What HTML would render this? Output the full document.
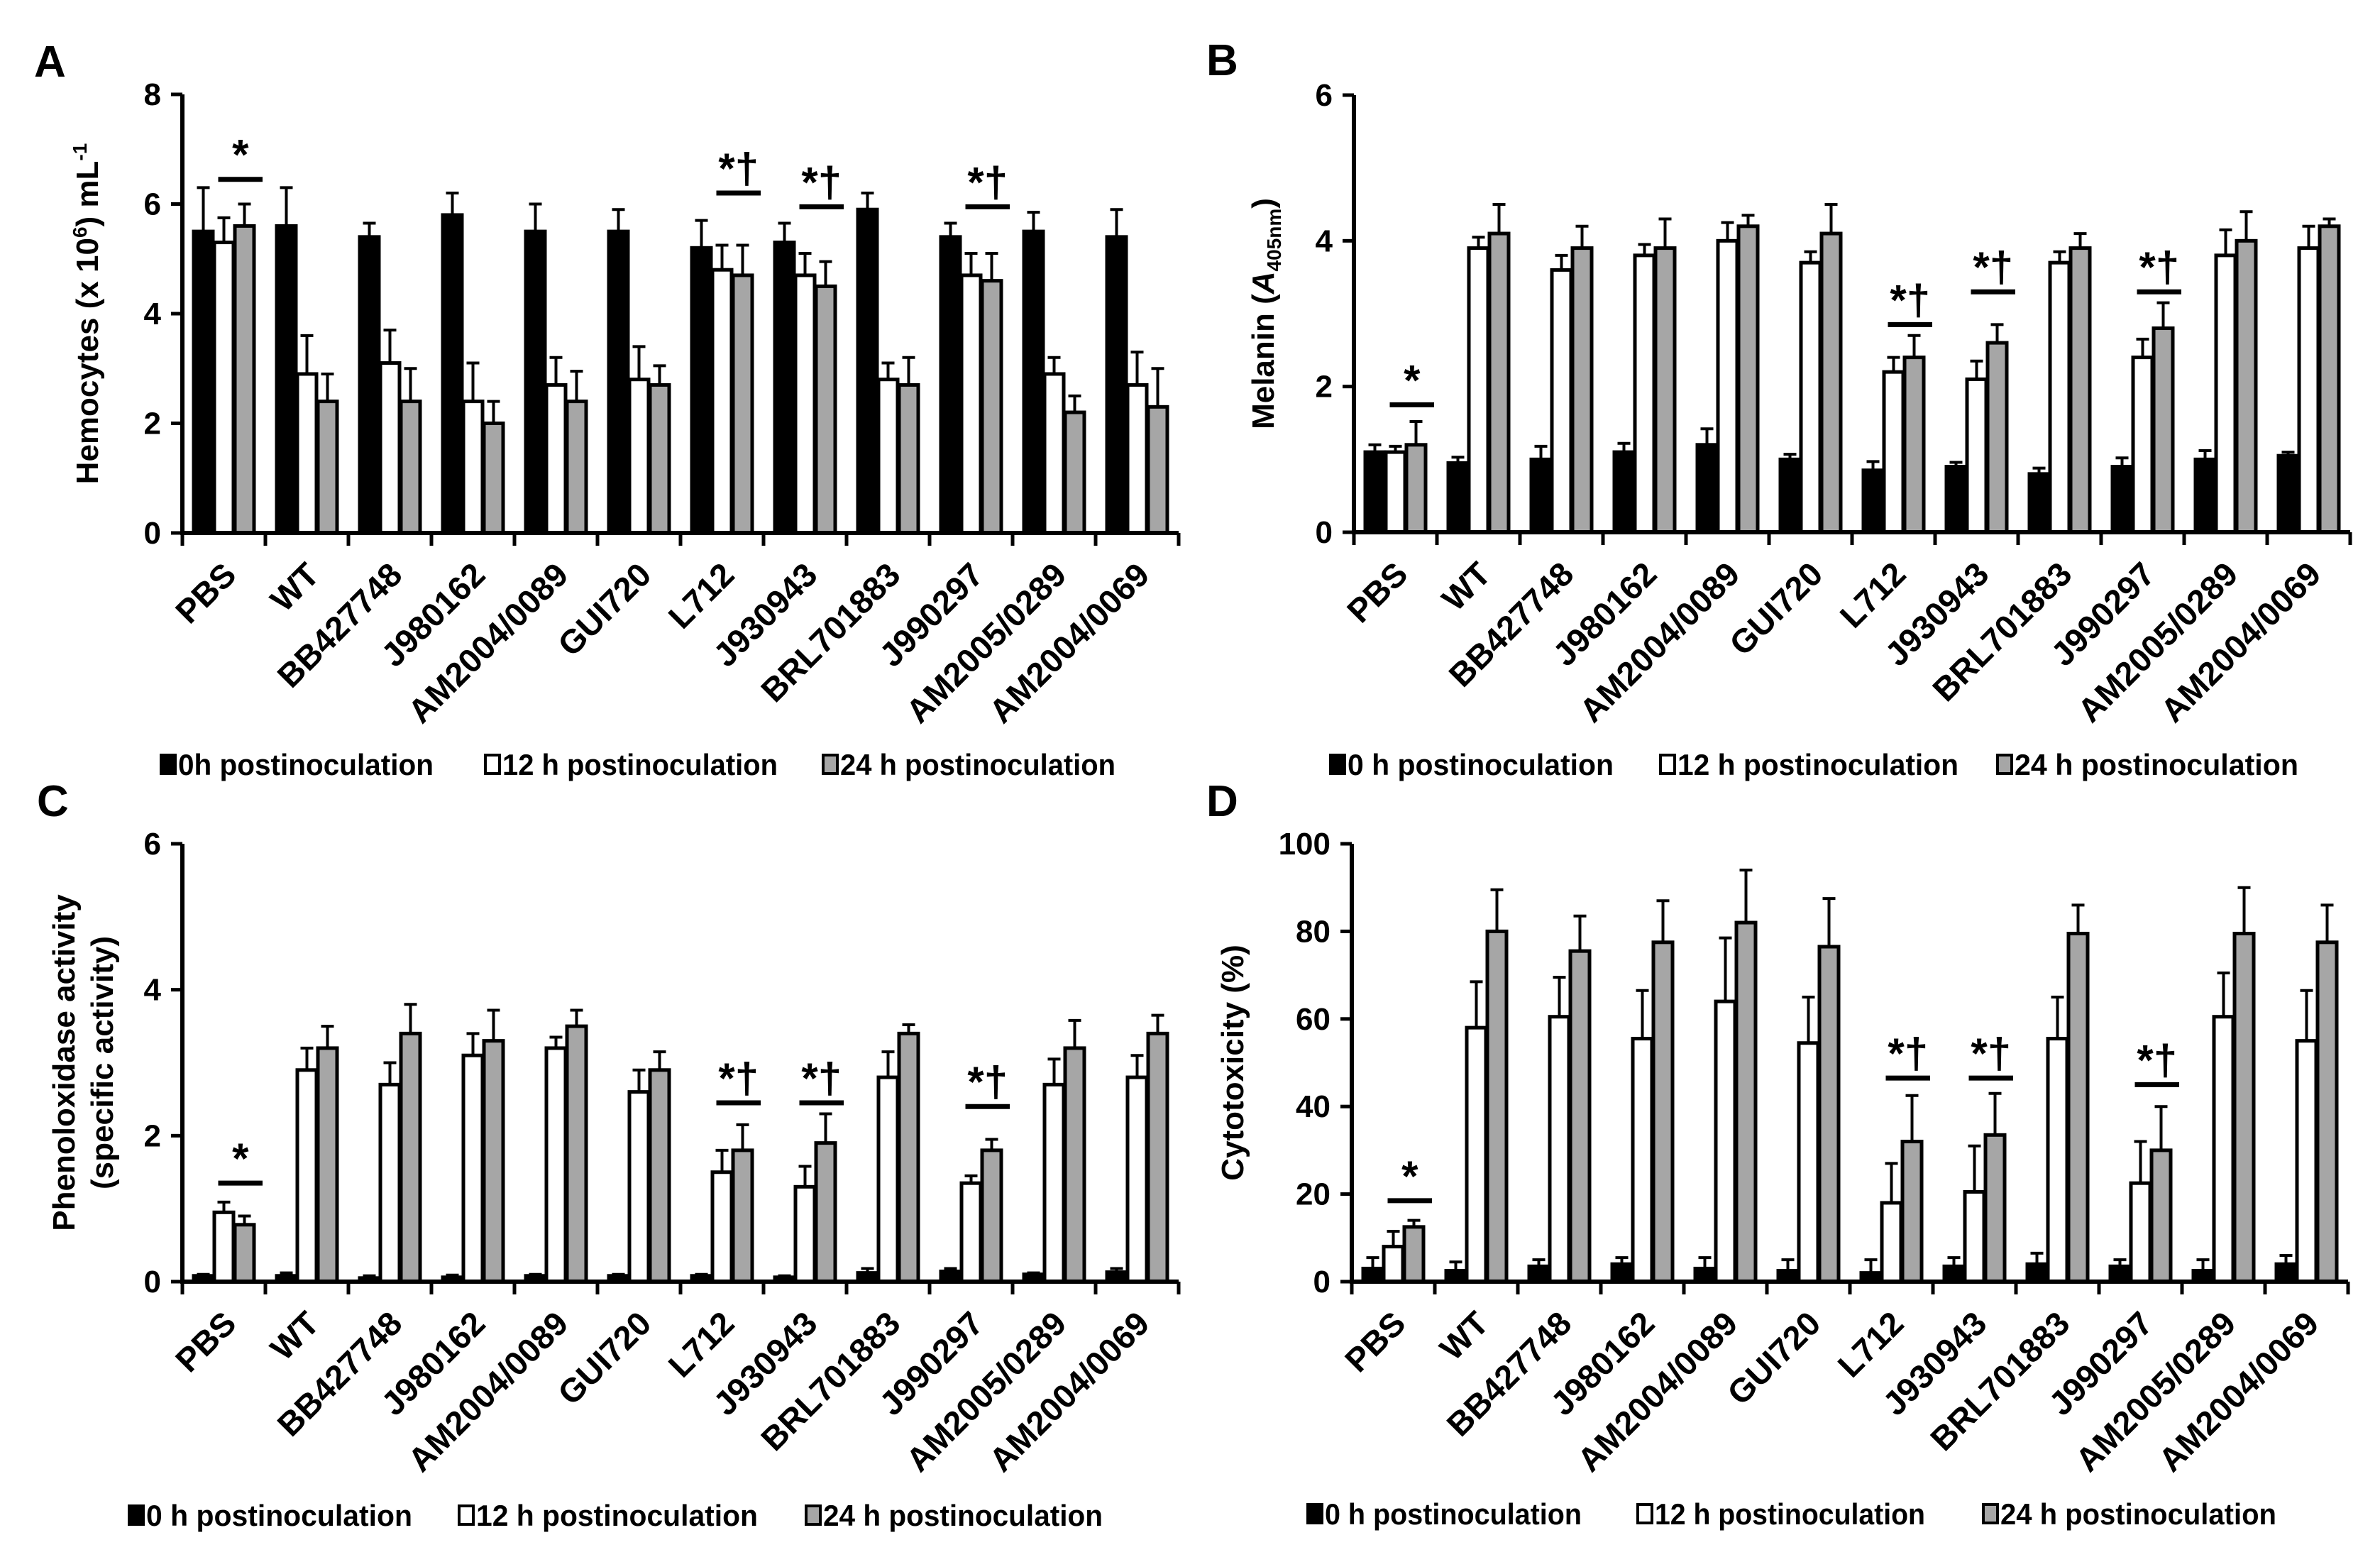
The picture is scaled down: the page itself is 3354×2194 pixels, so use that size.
<!DOCTYPE html>
<html><head><meta charset="utf-8">
<style>
html,body{margin:0;padding:0;background:#fff;}
svg{display:block;}
text{font-family:"Liberation Sans",Arial,sans-serif;font-weight:bold;fill:#000;}
.narrow{font-family:"Liberation Sans Narrow","Liberation Sans",sans-serif;}
</style></head>
<body>
<svg id="fig" width="3354" height="2194" viewBox="0 0 3354 2194" xmlns="http://www.w3.org/2000/svg"></svg>
<script>
const categories = ["PBS","WT","BB427748","J980162","AM2004/0089","GUI720","L712","J930943","BRL701883","J990297","AM2005/0289","AM2004/0069"];

// Panel A: hemocytes
const hemo0 = [5.5,5.6,5.4,5.8,5.5,5.5,5.2,5.3,5.9,5.4,5.5,5.4];
const hemo0Err = [0.8,0.7,0.25,0.4,0.5,0.4,0.5,0.35,0.3,0.25,0.35,0.5];
const hemo12 = [5.3,2.9,3.1,2.4,2.7,2.8,4.8,4.7,2.8,4.7,2.9,2.7];
const hemo12Err = [0.45,0.7,0.6,0.7,0.5,0.6,0.45,0.4,0.3,0.4,0.3,0.6];
const hemo24 = [5.6,2.4,2.4,2.0,2.4,2.7,4.7,4.5,2.7,4.6,2.2,2.3];
const hemo24Err = [0.4,0.5,0.6,0.4,0.55,0.35,0.55,0.45,0.5,0.5,0.3,0.7];
const hemoTicks = [0,2,4,6,8];
const hemoSig = [[0,6.45,"*"],[6,6.2,"*†"],[7,5.95,"*†"],[9,5.95,"*†"]];

// Panel B: melanin
const mel0 = [1.1,0.95,1.0,1.1,1.2,1.0,0.85,0.9,0.8,0.9,1.0,1.05];
const mel0Err = [0.1,0.08,0.18,0.12,0.22,0.07,0.12,0.06,0.08,0.12,0.12,0.05];
const mel12 = [1.1,3.9,3.6,3.8,4.0,3.7,2.2,2.1,3.7,2.4,3.8,3.9];
const mel12Err = [0.08,0.15,0.2,0.15,0.25,0.15,0.2,0.25,0.15,0.25,0.35,0.3];
const mel24 = [1.2,4.1,3.9,3.9,4.2,4.1,2.4,2.6,3.9,2.8,4.0,4.2];
const mel24Err = [0.32,0.4,0.3,0.4,0.15,0.4,0.3,0.25,0.2,0.35,0.4,0.1];
const melTicks = [0,2,4,6];
const melSig = [[0,1.75,"*"],[6,2.85,"*†"],[7,3.3,"*†"],[9,3.3,"*†"]];

// Panel C: phenoloxidase
const po0 = [0.08,0.08,0.05,0.06,0.08,0.08,0.08,0.06,0.12,0.14,0.1,0.13];
const po0Err = [0.02,0.04,0.03,0.03,0.02,0.02,0.02,0.02,0.06,0.04,0.02,0.05];
const po12 = [0.95,2.9,2.7,3.1,3.2,2.6,1.5,1.3,2.8,1.35,2.7,2.8];
const po12Err = [0.14,0.3,0.3,0.3,0.15,0.3,0.3,0.28,0.35,0.1,0.35,0.3];
const po24 = [0.78,3.2,3.4,3.3,3.5,2.9,1.8,1.9,3.4,1.8,3.2,3.4];
const po24Err = [0.12,0.3,0.4,0.42,0.22,0.25,0.35,0.4,0.12,0.15,0.38,0.25];
const poTicks = [0,2,4,6];
const poSig = [[0,1.35,"*"],[6,2.45,"*†"],[7,2.45,"*†"],[9,2.4,"*†"]];

// Panel D: cytotoxicity
const cyt0 = [3,2.5,3.5,4,3,2.5,2,3.5,4,3.5,2.5,4];
const cyt0Err = [2.5,2,1.5,1.5,2.5,2.5,3,2,2.5,1.5,2.5,2];
const cyt12 = [8,58,60.5,55.5,64,54.5,18,20.5,55.5,22.5,60.5,55];
const cyt12Err = [3.5,10.5,9,11,14.5,10.5,9,10.5,9.5,9.5,10,11.5];
const cyt24 = [12.5,80,75.5,77.5,82,76.5,32,33.5,79.5,30,79.5,77.5];
const cyt24Err = [1.5,9.5,8,9.5,12,11,10.5,9.5,6.5,10,10.5,8.5];
const cytTicks = [0,20,40,60,80,100];
const cytSig = [[0,18.5,"*"],[6,46.5,"*†"],[7,46.5,"*†"],[9,45,"*†"]];

const NS = "http://www.w3.org/2000/svg";
const svg = document.getElementById("fig");
function el(tag, attrs, parent){
  const e = document.createElementNS(NS, tag);
  for (const k in attrs) e.setAttribute(k, attrs[k]);
  (parent||svg).appendChild(e);
  return e;
}
const fills = ["#000","#fff","#a6a6a6"];

function panel(p){
  const g = el("g",{});
  
  
  const n = categories.length;
  const gw = (p.x1 - p.x0)/n;
  const yS = v => p.y0 - (v - p.ymin)/(p.ymax - p.ymin)*(p.y0 - p.yTop);
  const xC = i => p.x0 + gw*(i+0.5);
  const bw = 27;
  const L = el("text",{x:p.lx,y:p.ly,"font-size":62},g); L.textContent = p.letter;
  
  
  const series = [[p.s0,p.e0],[p.s1,p.e1],[p.s2,p.e2]];
  series.forEach((s,si)=>{
    s[0].forEach((v,i)=>{
      const bx = xC(i) + (si-1)*(bw+2) - bw/2;
      const top = yS(v);
      const r = el("rect",{x:bx,y:top,width:bw,height:p.y0-top,fill:fills[si],stroke:"#000","stroke-width":5},g);
      
      
      const et = yS(v + s[1][i]);
      const cx = bx + bw/2;
      const eb = el("path",{d:`M${cx},${top} V${et} M${cx-9},${et} H${cx+9}`,stroke:"#000","stroke-width":4,fill:"none"},g);
      
      
    });
  });
  const ax = el("path",{d:`M${p.x0},${p.yTop} V${p.y0} H${p.x1}`,stroke:"#000","stroke-width":6,fill:"none"},g);
  
  
  for(let i=0;i<=n;i++){
    const tx = p.x0 + gw*i;
    el("line",{x1:tx,y1:p.y0,x2:tx,y2:p.y0+18,stroke:"#000","stroke-width":5},g);
  }
  p.ticks.forEach(t=>{
    const ty = yS(t);
    el("line",{x1:p.x0-16,y1:ty,x2:p.x0,y2:ty,stroke:"#000","stroke-width":5},g);
    const tl = el("text",{x:p.x0-30,y:ty+15,"font-size":44,"text-anchor":"end"},g);
    tl.textContent = t;
    
    
  });
  categories.forEach((c,i)=>{
    const ax2 = xC(i)+20, ay = p.y0+62;
    const t = el("text",{x:ax2,y:ay,"font-size":47,"text-anchor":"end",transform:`rotate(-45 ${ax2} ${ay})`},g);
    t.textContent = c;
    
    
  });
  p.sig.forEach(s=>{
    const i = s[0], ly = yS(s[1]);
    const xa = xC(i) - 8, xb = xC(i) + bw*1.5 + 14;
    el("line",{x1:xa,y1:ly,x2:xb,y2:ly,stroke:"#000","stroke-width":7},g);
    const st = el("text",{x:(xa+xb)/2,y:ly-14,"font-size":60,"text-anchor":"middle"},g);
    st.textContent = s[2];
    
    
  });
  const tg = el("g",{transform:`translate(${p.tx},${(p.yTop+p.y0)/2}) rotate(-90)`},g);
  
  
  p.title(tg);
  p.leg.forEach((lab,k)=>{
    const lx = p.legX[k];
    const sq = el("rect",{x:lx,y:p.legY-13,width:20,height:26,fill:fills[k],stroke:"#000","stroke-width":4},g);
    
    
    const lt = el("text",{x:lx+24,y:p.legY+15,"font-size":42,"class":"narrow",textLength:p.legW[k],lengthAdjust:"spacingAndGlyphs"},g);
    lt.textContent = lab;
    
    
  });
}

panel({name:"panel-a-hemocytes",letter:"A",lx:48,ly:108,x0:257,x1:1661,yTop:133,y0:751,ymin:0,ymax:8,
  s0:hemo0,e0:hemo0Err,s1:hemo12,e1:hemo12Err,s2:hemo24,e2:hemo24Err,ticks:hemoTicks,sig:hemoSig,tx:138,
  title:(g)=>{const t=el("text",{x:0,y:0,"font-size":44,"text-anchor":"middle"},g);
    t.innerHTML='Hemocytes (x 10<tspan font-size="28" dy="-16">6</tspan><tspan dy="16">) mL</tspan><tspan font-size="28" dy="-16">-1</tspan>';},
  leg:["0h postinoculation","12 h postinoculation","24 h postinoculation"],legX:[227,684,1160],legW:[360,388,388],legY:1077});

panel({name:"panel-b-melanin",letter:"B",lx:1700,ly:106,x0:1908,x1:3312,yTop:134,y0:750,ymin:0,ymax:6,
  s0:mel0,e0:mel0Err,s1:mel12,e1:mel12Err,s2:mel24,e2:mel24Err,ticks:melTicks,sig:melSig,tx:1795,
  title:(g)=>{const t=el("text",{x:0,y:0,"font-size":44,"text-anchor":"middle"},g);
    t.innerHTML='Melanin (<tspan font-style="italic">A</tspan><tspan font-size="28" dy="10">405nm</tspan><tspan dy="-10">)</tspan>';},
  leg:["0 h postinoculation","12 h postinoculation","24 h postinoculation"],legX:[1875,2340,2815],legW:[375,396,400],legY:1077});

panel({name:"panel-c-phenoloxidase",letter:"C",lx:52,ly:1150,x0:257,x1:1661,yTop:1189,y0:1806,ymin:0,ymax:6,
  s0:po0,e0:po0Err,s1:po12,e1:po12Err,s2:po24,e2:po24Err,ticks:poTicks,sig:poSig,tx:105,
  title:(g)=>{const a=el("text",{x:0,y:0,"font-size":44,"text-anchor":"middle"},g);a.textContent="Phenoloxidase activity";
    const b=el("text",{x:0,y:54,"font-size":44,"text-anchor":"middle"},g);b.textContent="(specific activity)";},
  leg:["0 h postinoculation","12 h postinoculation","24 h postinoculation"],legX:[182,647,1136],legW:[375,397,394],legY:2135});

panel({name:"panel-d-cytotoxicity",letter:"D",lx:1700,ly:1150,x0:1905,x1:3309,yTop:1189,y0:1806,ymin:0,ymax:100,
  s0:cyt0,e0:cyt0Err,s1:cyt12,e1:cyt12Err,s2:cyt24,e2:cyt24Err,ticks:cytTicks,sig:cytSig,tx:1752,
  title:(g)=>{const t=el("text",{x:0,y:0,"font-size":44,"text-anchor":"middle"},g);t.textContent="Cytotoxicity (%)";},
  leg:["0 h postinoculation","12 h postinoculation","24 h postinoculation"],legX:[1843,2308,2795],legW:[362,381,389],legY:2133});
</script>
</body></html>
